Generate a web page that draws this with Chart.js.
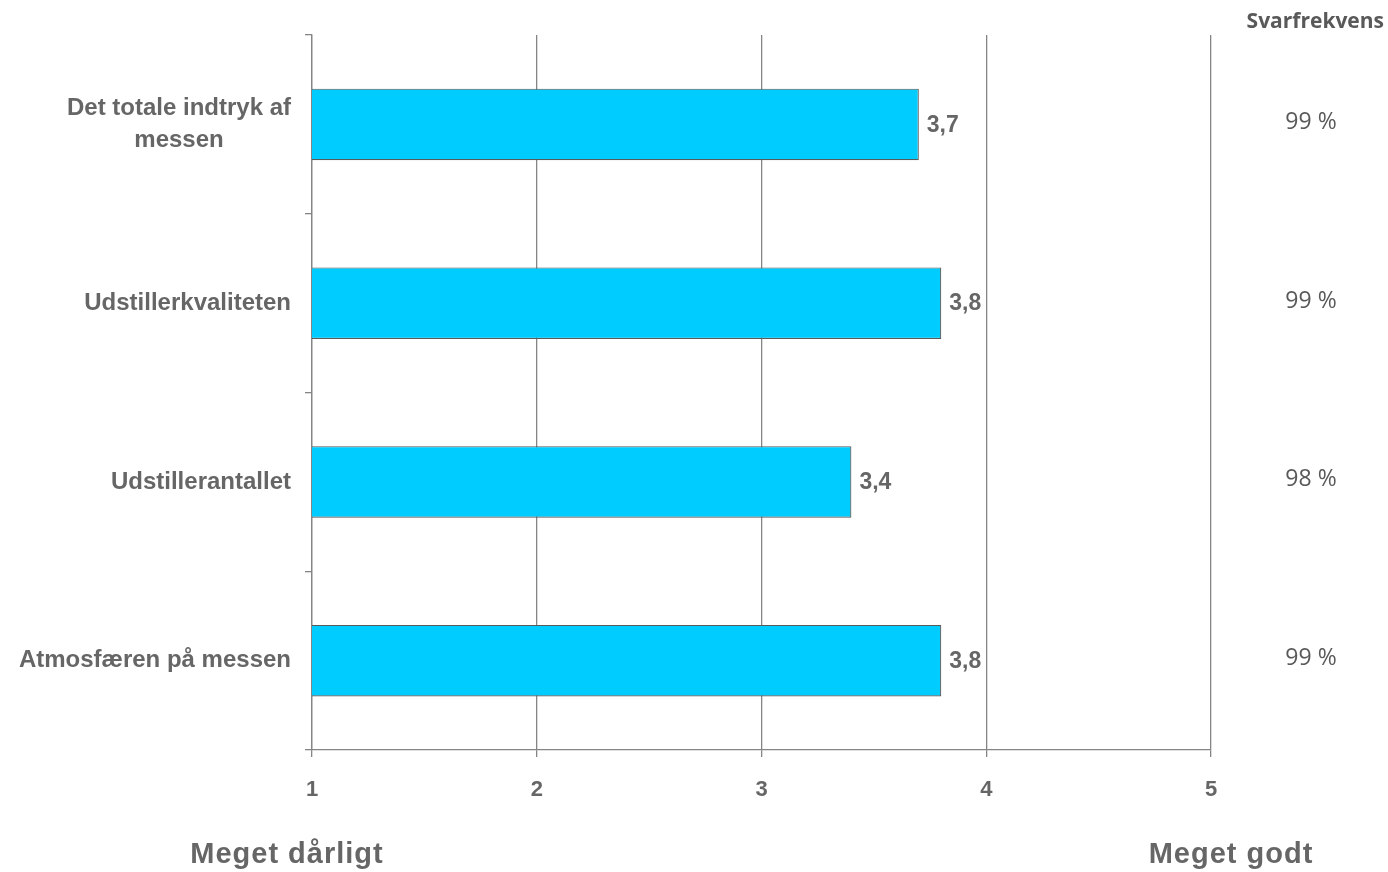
<!DOCTYPE html>
<html>
<head>
<meta charset="utf-8">
<script src="https://cdn.jsdelivr.net/npm/chart.js@4/dist/chart.umd.min.js"></script>
<style>
  html, body { margin: 0; padding: 0; background: #fff; }
  canvas { display: block; }
</style>
</head>
<body>
<canvas id="chart" width="1388" height="872"></canvas>
<script>
const categories = [
  ['Det totale indtryk af', 'messen'],
  ['Udstillerkvaliteten'],
  ['Udstillerantallet'],
  ['Atmosfæren på messen']
];
const scores = [3.7, 3.8, 3.4, 3.8];
const responseRates = ['99 %', '99 %', '98 %', '99 %'];
const xTicks = [1, 2, 3, 4, 5];
const lowLabel = 'Meget dårligt';
const highLabel = 'Meget godt';
const rateTitle = 'Svarfrekvens';

const grey = '#666666';
const gridGrey = '#858585';
const fmt = (v) => v.toFixed(1).replace('.', ',');

// labels, values, svarfrekvens and scale captions drawn by hand
const extras = {
  id: 'extras',
  afterDatasetsDraw(chart) {
    const ctx = chart.ctx;
    const y = chart.scales.y;
    const bars = chart.getDatasetMeta(0).data;
    ctx.save();
    ctx.fillStyle = grey;
    ctx.textBaseline = 'middle';

    // category labels, lines centred, block right-aligned to the axis
    ctx.font = 'bold 24px "Liberation Sans", Arial, sans-serif';
    categories.forEach((lines, i) => {
      const cy = y.getPixelForValue(i);
      const w = Math.max(...lines.map((l) => ctx.measureText(l).width));
      const cx = y.right - 21 - w / 2;
      const lh = 32;
      ctx.textAlign = 'center';
      lines.forEach((l, j) => {
        ctx.fillText(l, cx, cy + (j - (lines.length - 1) / 2) * lh);
      });
    });

    // value labels
    ctx.font = 'bold 23px "Liberation Sans", Arial, sans-serif';
    ctx.textAlign = 'left';
    bars.forEach((b, i) => ctx.fillText(fmt(scores[i]), b.x + 8, b.y + 1));

    // response rate column
    ctx.fillStyle = '#595959';
    ctx.textAlign = 'center';
    ctx.font = '23px "Open Sans", sans-serif';
    bars.forEach((b, i) => ctx.fillText(responseRates[i], 1311, b.y - 2));
    ctx.textAlign = 'right';
    ctx.font = 'bold 21px "Open Sans", sans-serif';
    ctx.fillText(rateTitle, 1384, 22);

    // scale captions
    ctx.fillStyle = grey;
    ctx.textAlign = 'center';
    ctx.font = 'bold 29px "Liberation Sans", Arial, sans-serif';
    ctx.letterSpacing = '1px';
    ctx.fillText(lowLabel, 287, 855);
    ctx.fillText(highLabel, 1231, 855);
    ctx.restore();
  }
};

new Chart(document.getElementById('chart'), {
  type: 'bar',
  data: {
    labels: categories,
    datasets: [{
      data: scores,
      backgroundColor: '#00CCFF',
      borderColor: '#5a5a5a',
      borderWidth: 1.2,
      borderSkipped: false,
      barPercentage: 0.4,
      categoryPercentage: 1
    }]
  },
  options: {
    indexAxis: 'y',
    responsive: false,
    animation: false,
    devicePixelRatio: 1,
    layout: { padding: { top: 35, right: 177, left: 0, bottom: 0 } },
    plugins: { legend: { display: false }, tooltip: { enabled: false } },
    scales: {
      x: {
        type: 'linear',
        min: 1,
        max: 5,
        afterFit: (s) => { s.height = 122; },
        afterBuildTicks: (s) => { s.ticks = xTicks.map((v) => ({ value: v })); },
        ticks: {
          color: grey,
          padding: 20,
          font: { family: '"Liberation Sans", Arial, sans-serif', size: 22, weight: 'bold' }
        },
        grid: { color: gridGrey, lineWidth: 1.3, tickLength: 7 },
        border: { color: gridGrey, width: 1.3 }
      },
      y: {
        type: 'category',
        offset: true,
        afterFit: (s) => { s.width = 312; },
        ticks: { display: false },
        grid: { offset: true, drawOnChartArea: false, color: gridGrey, lineWidth: 1.3, tickLength: 7 },
        border: { color: gridGrey, width: 1.3 }
      }
    }
  },
  plugins: [extras]
});
</script>
</body>
</html>
